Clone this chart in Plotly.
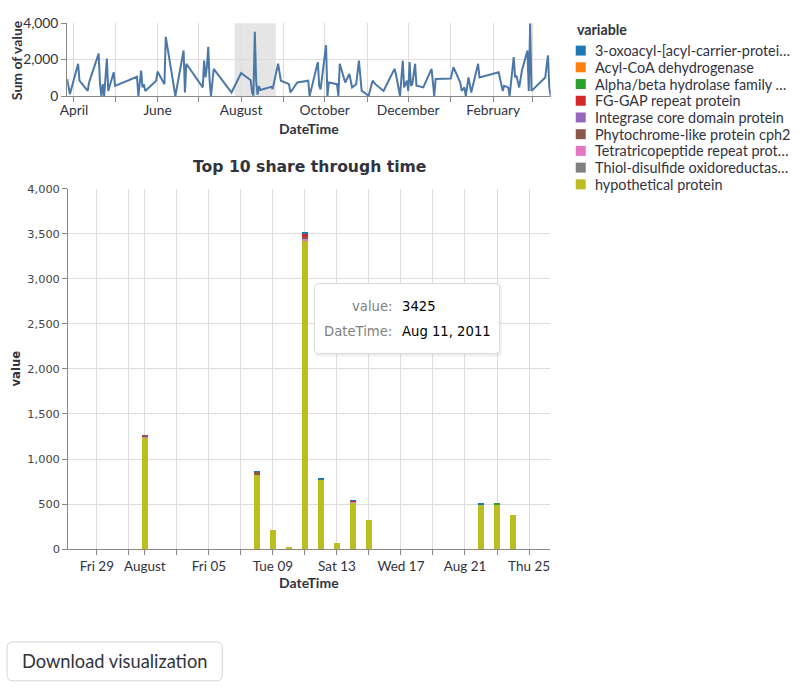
import plotly.graph_objects as go

# The page is shown with the browser's default 8px body margin and the
# captured area is then fitted to 811x692; map target pixels accordingly.
W, H, OFF = 811, 692, 8
SX, SY = (W + OFF) / W, (H + 2 * OFF) / H
FS = 1.015

# ---------------- data ----------------
line_dates = [
    "2011-03-27", "2011-03-29", "2011-04-04", "2011-04-05", "2011-04-11", "2011-04-12",
    "2011-04-19", "2011-04-20", "2011-04-21", "2011-04-22", "2011-04-23", "2011-04-25",
    "2011-04-26", "2011-04-28", "2011-04-30", "2011-05-01", "2011-05-17", "2011-05-18",
    "2011-05-20", "2011-05-21", "2011-05-22", "2011-05-23", "2011-05-31", "2011-06-01",
    "2011-06-06", "2011-06-07", "2011-06-14", "2011-06-20", "2011-06-21", "2011-06-22",
    "2011-07-04", "2011-07-05", "2011-07-06", "2011-07-07", "2011-07-08", "2011-07-09",
    "2011-07-10", "2011-07-12", "2011-07-25",
    "2011-08-01", "2011-08-08", "2011-08-09", "2011-08-10", "2011-08-11", "2011-08-12",
    "2011-08-13", "2011-08-14", "2011-08-15", "2011-08-22", "2011-08-23", "2011-08-24",
    "2011-08-28", "2011-08-30", "2011-09-05", "2011-09-06", "2011-09-11", "2011-09-19",
    "2011-09-20", "2011-09-26", "2011-09-27", "2011-09-28", "2011-10-02", "2011-10-03",
    "2011-10-04", "2011-10-10", "2011-10-11", "2011-10-12", "2011-10-16", "2011-10-19",
    "2011-10-21", "2011-10-24", "2011-10-26", "2011-10-28", "2011-10-30", "2011-11-02",
    "2011-11-05", "2011-11-07", "2011-11-13", "2011-11-16", "2011-11-21", "2011-11-22",
    "2011-11-25", "2011-11-27", "2011-11-28", "2011-11-30", "2011-12-01", "2011-12-02",
    "2011-12-03", "2011-12-04", "2011-12-06", "2011-12-07", "2011-12-12", "2011-12-18",
    "2011-12-20", "2011-12-21", "2012-01-01", "2012-01-03", "2012-01-08", "2012-01-09",
    "2012-01-11", "2012-01-12", "2012-01-14", "2012-01-16", "2012-01-21", "2012-01-22",
    "2012-02-05", "2012-02-08", "2012-02-09", "2012-02-12", "2012-02-13", "2012-02-16",
    "2012-02-17", "2012-02-18", "2012-02-20", "2012-02-22", "2012-02-26", "2012-02-27",
    "2012-02-28", "2012-02-29", "2012-03-10", "2012-03-12", "2012-03-13", "2012-03-14",
]
line_values = [
    930, 100, 1770, 840, 280, 740,
    2330, 650, 0, 650, 0, 2050,
    280, 840, 1300, 560, 1060, 0,
    1400, 470, 650, 280, 840, 1340,
    650, 3250, 0, 2500, 190, 1770,
    470, 1950, 1020, 1580, 2700, 840,
    0, 1490, 190,
    1265, 866, 210, 25, 3520, 790,
    70, 543, 325, 505, 505, 385,
    1770, 840, 650, 190, 740, 840,
    0, 1860, 560, 370, 2790, 0,
    740, 650, 0, 1770, 740, 1210,
    470, 650, 1950, 280, 190, 0,
    840, 650, 280, 740, 1490, 1210,
    0, 1950, 470, 840, 280, 1860,
    560, 650, 1770, 560, 470, 1490,
    0, 930, 960, 1580, 740, 280,
    470, 0, 1020, 190, 1770, 1020,
    1300, 280, 560, 470, 0, 2140,
    1020, 1120, 470, 1400, 2500, 280,
    3990, 280, 1020, 2230, 470, 0,
]

month_ticks = ["2011-04-01", "2011-05-01", "2011-06-01", "2011-07-01", "2011-08-01", "2011-09-01",
               "2011-10-01", "2011-11-01", "2011-12-01", "2012-01-01", "2012-02-01", "2012-03-01"]
month_labels = ["April", "", "June", "", "August", "", "October", "", "December", "", "February", ""]

brush_range = ["2011-07-27 05:00", "2011-08-26 07:00"]

bar_dates = ["2011-08-01", "2011-08-08", "2011-08-09", "2011-08-10", "2011-08-11", "2011-08-12",
             "2011-08-13", "2011-08-14", "2011-08-15", "2011-08-22", "2011-08-23", "2011-08-24"]

categories = [
    "3-oxoacyl-[acyl-carrier-protei…",
    "Acyl-CoA dehydrogenase",
    "Alpha/beta hydrolase family …",
    "FG-GAP repeat protein",
    "Integrase core domain protein",
    "Phytochrome-like protein cph2",
    "Tetratricopeptide repeat prot…",
    "Thiol-disulfide oxidoreductas…",
    "hypothetical protein",
]
colors = ["#1f77b4", "#ff7f0e", "#2ca02c", "#d62728", "#9467bd",
          "#8c564b", "#e377c2", "#7f7f7f", "#bcbd22"]

v_oxoacyl     = [0, 4, 0, 0, 10, 8, 0, 6, 0, 4, 0, 0]
v_acylcoa     = [0, 0, 0, 0, 0, 0, 0, 0, 0, 0, 0, 0]
v_alphabeta   = [0, 0, 0, 0, 0, 0, 0, 0, 0, 0, 4, 0]
v_fggap       = [0, 0, 0, 0, 45, 0, 0, 10, 0, 0, 0, 0]
v_integrase   = [0, 0, 0, 0, 0, 0, 0, 0, 0, 0, 0, 0]
v_phyto       = [12, 32, 0, 0, 15, 0, 0, 0, 0, 0, 0, 0]
v_tetra       = [8, 0, 0, 0, 25, 0, 0, 7, 0, 0, 0, 0]
v_thiol       = [0, 0, 0, 0, 0, 0, 0, 0, 0, 0, 0, 0]
v_hypothetical = [1245, 830, 210, 25, 3425, 780, 70, 520, 325, 500, 500, 385]
series = [v_oxoacyl, v_acylcoa, v_alphabeta, v_fggap, v_integrase,
          v_phyto, v_tetra, v_thiol, v_hypothetical]

day_ticks = ["2011-07-29", "2011-07-31", "2011-08-01", "2011-08-03", "2011-08-05", "2011-08-07",
             "2011-08-09", "2011-08-11", "2011-08-13", "2011-08-15", "2011-08-17", "2011-08-19",
             "2011-08-21", "2011-08-23", "2011-08-25"]
day_labels = ["Fri 29", "", "August", "", "Fri 05", "", "Tue 09", "", "Sat 13", "",
              "Wed 17", "", "Aug 21", "", "Thu 25"]

tooltip_rows = [("value:", "3425"), ("DateTime:", "Aug 11, 2011")]

# ---------------- helpers (target pixel -> paper) ----------------
def px(x):
    return (x * SX - OFF) / W

def py(y):
    return 1 - (y * SY - OFF) / H

def f(s):
    return s * FS

def rrect(x0, y0, x1, y1, r):
    rx, ry = r / W, r / H
    X0, X1 = px(x0), px(x1)
    Y0, Y1 = py(y0), py(y1)
    return (f"M {X0+rx},{Y0} L {X1-rx},{Y0} Q {X1},{Y0} {X1},{Y0-ry} "
            f"L {X1},{Y1+ry} Q {X1},{Y1} {X1-rx},{Y1} L {X0+rx},{Y1} "
            f"Q {X0},{Y1} {X0},{Y1+ry} L {X0},{Y0-ry} Q {X0},{Y0} {X0+rx},{Y0} Z")

SANS = "Lato, 'Source Sans Pro', sans-serif"
DJ = "DejaVu Sans, sans-serif"
TXT = "#31333f"
GRID = "#dddddd"
AX = "#888888"

fig = go.Figure()

fig.add_trace(go.Scatter(
    x=line_dates, y=line_values, mode="lines",
    line=dict(color="#4c78a8", width=2),
    xaxis="x", yaxis="y", showlegend=False, hoverinfo="skip",
))

DAY_MS = 86400000
for name, col, vals in reversed(list(zip(categories, colors, series))):
    fig.add_trace(go.Bar(
        x=bar_dates, y=vals, name=name,
        marker=dict(color=col, line=dict(width=0)),
        width=0.375 * DAY_MS,
        xaxis="x2", yaxis="y2", showlegend=False, hoverinfo="skip",
    ))

common_axis = dict(showline=True, linecolor=AX, linewidth=1, ticks="outside",
                   ticklen=5, tickcolor=AX, showgrid=True, gridcolor=GRID,
                   zeroline=False)

fig.update_layout(
    width=W, height=H,
    margin=dict(l=0, r=0, t=0, b=0),
    paper_bgcolor="white", plot_bgcolor="white",
    barmode="stack", bargap=0,
    showlegend=False,
    xaxis=dict(domain=[px(68), px(551)], anchor="y", type="date",
               range=[line_dates[0], line_dates[-1]],
               tickmode="array", tickvals=month_ticks, ticktext=month_labels,
               ticklabelstandoff=-4,
               tickfont=dict(family=SANS, size=f(13.6), color=TXT), **common_axis),
    yaxis=dict(domain=[py(95), py(22)], anchor="x", range=[0, 4000],
               tickmode="array", tickvals=[0, 2000, 4000], tickformat=",",
               tickfont=dict(family=SANS, size=f(13.6), color=TXT), **common_axis),
    xaxis2=dict(domain=[px(69), px(550)], anchor="y2", type="date",
                range=brush_range,
                tickmode="array", tickvals=day_ticks, ticktext=day_labels,
                tickfont=dict(family=SANS, size=f(13.3), color=TXT), **common_axis),
    yaxis2=dict(domain=[py(549), py(188)], anchor="x2", range=[0, 4000],
                dtick=500, tickformat=",",
                tickfont=dict(family=DJ, size=f(11.2), color="#444444"), **common_axis),
)

shapes = []
shapes.append(dict(type="rect", xref="x", yref="y domain",
                   x0=brush_range[0], x1=brush_range[1], y0=0, y1=1,
                   fillcolor="rgba(51,51,51,0.125)", line=dict(width=0), layer="below"))

leg_y0, leg_dy = 49.5, 16.75
for i, col in enumerate(colors):
    cy = leg_y0 + i * leg_dy
    shapes.append(dict(type="rect", xref="paper", yref="paper",
                       x0=px(576), x1=px(586), y0=py(cy + 5), y1=py(cy - 5),
                       fillcolor=col, line=dict(width=0)))

shapes.append(dict(type="path", xref="paper", yref="paper",
                   path=rrect(316, 284, 502, 356, 4),
                   fillcolor="rgba(0,0,0,0.06)", line=dict(width=0)))
shapes.append(dict(type="path", xref="paper", yref="paper",
                   path=rrect(315, 283, 500, 353, 4),
                   fillcolor="white", line=dict(color="#d9d9d9", width=1)))

shapes.append(dict(type="path", xref="paper", yref="paper",
                   path=rrect(8, 642, 223, 681, 6),
                   fillcolor="white", line=dict(color="#d6d6d9", width=1)))

fig.update_layout(shapes=shapes)

ann = []
def label(text, x, y, size, family, color=TXT, bold=False, angle=0, xanchor="center"):
    t = f"<b>{text}</b>" if bold else text
    ann.append(dict(text=t, x=px(x), y=py(y), xref="paper", yref="paper",
                    showarrow=False, xanchor=xanchor, yanchor="middle",
                    textangle=angle, font=dict(family=family, size=size * FS, color=color)))

label("Sum of value", 17, 59, 13.8, SANS, bold=True, angle=-90)
label("DateTime", 310, 128, 13.8, SANS, bold=True)
label("Top 10 share through time", 310, 166, 15.4, DJ, bold=True)
label("value", 17, 368, 11.5, DJ, bold=True, angle=-90)
label("DateTime", 310, 582, 13.8, SANS, bold=True)

label("variable", 575, 28, 14, SANS, bold=True, xanchor="left")
for i, name in enumerate(categories):
    label(name, 593, leg_y0 + i * leg_dy, 14.2, SANS, xanchor="left")

row_y = [305.5, 331]
for (k, v), yy in zip(tooltip_rows, row_y):
    label(k, 394, yy, 13, DJ, color="#808080", xanchor="right")
    label(v, 400, yy, 13, DJ, color="#000000", xanchor="left")

label("Download visualization", 115.5, 661.5, 18, SANS)

fig.update_layout(annotations=ann)

fig.write_html("out.html")
